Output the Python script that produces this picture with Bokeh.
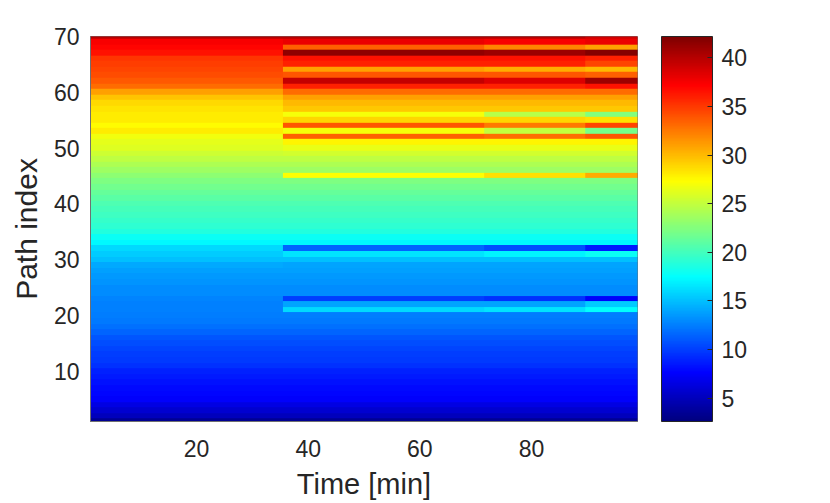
import numpy as np
from bokeh.plotting import figure
from bokeh.models import LinearColorMapper, ColorBar, FixedTicker
from bokeh.embed import file_html
from bokeh.resources import INLINE

# ---- data ----
time_min = list(range(1, 100))          # 1 .. 99 minutes
path_index = list(range(1, 71))         # 1 .. 70 paths
segment_start = [1, 36, 72, 90]         # times where the path values change

# values per path (index 1..70) in each time segment
seg_a = [3.5, 5.0, 5.8, 6.5, 7.5, 7.8, 8.0, 8.2, 8.5, 8.8,
         9.5, 9.8, 10.0, 10.3, 10.5, 10.8, 11.5, 12.0, 12.2, 12.4,
         12.5, 12.6, 12.8, 13.0, 13.1, 13.3, 13.5, 13.8, 14.2, 15.0,
         15.5, 16.0, 17.2, 17.8, 18.8, 19.2, 19.5, 19.8, 20.1, 20.5,
         20.9, 21.4, 21.9, 22.4, 23.0, 23.6, 24.2, 24.8, 25.4, 26.0,
         26.4, 26.8, 28.0, 27.4, 28.0, 28.0, 28.4, 28.8, 29.6, 31.0,
         33.0, 33.8, 34.2, 34.5, 34.8, 35.2, 36.5, 37.0, 37.5, 40.0]

seg_b = [3.5, 5.0, 5.8, 6.5, 7.5, 7.8, 8.0, 8.2, 8.5, 8.8,
         9.5, 9.8, 10.0, 10.3, 10.5, 10.8, 11.5, 12.0, 12.2, 12.4,
         16.0, 14.0, 10.0, 13.0, 13.1, 13.3, 13.5, 13.8, 14.0, 15.0,
         16.5, 11.5, 17.2, 17.8, 18.8, 19.2, 19.5, 19.8, 20.1, 20.5,
         20.9, 21.4, 21.9, 22.4, 27.3, 23.6, 24.2, 24.8, 25.6, 26.5,
         27.8, 33.5, 27.0, 34.0, 29.0, 27.0, 29.5, 30.0, 31.0, 33.0,
         36.0, 39.5, 34.0, 31.0, 36.0, 36.5, 41.5, 33.5, 38.0, 40.0]

seg_c = [3.5, 5.0, 5.8, 6.5, 7.5, 7.8, 8.0, 8.2, 8.5, 8.8,
         9.5, 9.8, 10.0, 10.3, 10.5, 10.8, 11.5, 12.0, 12.2, 12.4,
         16.5, 14.0, 9.5, 13.0, 13.1, 13.3, 13.5, 13.8, 14.0, 15.0,
         17.0, 10.5, 17.2, 17.8, 18.8, 19.2, 19.5, 19.8, 20.1, 20.5,
         20.9, 21.4, 21.9, 22.4, 28.5, 23.6, 24.2, 24.8, 25.6, 26.5,
         27.8, 33.0, 25.0, 32.5, 29.0, 24.5, 29.5, 30.0, 31.0, 33.0,
         36.0, 38.5, 34.0, 30.5, 36.0, 36.5, 41.0, 32.0, 37.5, 40.0]

seg_d = [3.5, 5.0, 5.8, 6.5, 7.5, 7.8, 8.0, 8.2, 8.5, 8.8,
         9.5, 9.8, 10.0, 10.3, 10.5, 10.8, 11.5, 12.0, 12.2, 12.4,
         17.5, 15.5, 7.5, 13.0, 13.1, 13.3, 13.5, 13.8, 14.0, 15.0,
         17.8, 8.5, 17.2, 17.8, 18.8, 19.2, 19.5, 19.8, 20.1, 20.5,
         20.9, 21.4, 21.9, 22.4, 30.5, 23.6, 24.2, 24.8, 25.6, 26.5,
         27.8, 34.0, 22.0, 34.5, 28.5, 22.5, 29.5, 30.0, 31.0, 33.0,
         36.5, 41.0, 33.5, 30.0, 34.5, 36.0, 42.0, 31.0, 38.0, 39.0]

cbar_low, cbar_high = 2.6, 42.2
x_ticks = [20, 40, 60, 80]
y_ticks = [10, 20, 30, 40, 50, 60, 70]
cbar_ticks = [5, 10, 15, 20, 25, 30, 35, 40]

# ---- build the path x time matrix ----
segments = [seg_a, seg_b, seg_c, seg_d]
Z = np.zeros((len(path_index), len(time_min)))
for j, t in enumerate(time_min):
    k = max(i for i, s in enumerate(segment_start) if t >= s)
    Z[:, j] = segments[k]


def jet(n):
    cols = []
    for i in range(n):
        f = i / (n - 1)
        r = min(max(1.5 - abs(4 * f - 3), 0), 1)
        g = min(max(1.5 - abs(4 * f - 2), 0), 1)
        b = min(max(1.5 - abs(4 * f - 1), 0), 1)
        cols.append("#%02x%02x%02x" % (round(r * 255), round(g * 255), round(b * 255)))
    return cols


mapper = LinearColorMapper(palette=jet(256), low=cbar_low, high=cbar_high)

TXT = "#262626"
FONT = "Liberation Sans"

p = figure(frame_width=547, frame_height=385,
           x_range=(time_min[0], time_min[-1]), y_range=(path_index[0], path_index[-1]),
           output_backend="svg", toolbar_location=None,
           min_border_left=90, min_border_top=36, min_border_bottom=70,
           min_border_right=140)

p.image(image=[Z], x=time_min[0] - 0.5, y=path_index[0] - 0.5,
        dw=len(time_min), dh=len(path_index), color_mapper=mapper)

p.grid.visible = False
p.outline_line_color = "#707070"
p.outline_line_width = 1

for ax in (p.xaxis[0], p.yaxis[0]):
    ax.axis_line_color = "#707070"
    ax.major_tick_line_color = None
    ax.major_tick_out = 0
    ax.major_tick_in = 0
    ax.minor_tick_line_color = None
    ax.minor_tick_out = 0
    ax.major_label_text_font = FONT
    ax.major_label_text_font_size = "23px"
    ax.major_label_text_color = TXT
    ax.axis_label_text_font = FONT
    ax.axis_label_text_font_style = "normal"
    ax.axis_label_text_color = TXT

p.yaxis.axis_label_text_font_size = "30px"
p.xaxis.axis_label_text_font_size = "29px"
p.yaxis.major_label_standoff = 11
p.yaxis.axis_label_standoff = 8
p.xaxis.major_label_standoff = 18
p.xaxis.axis_label_standoff = 8

p.xaxis.ticker = FixedTicker(ticks=x_ticks)
p.yaxis.ticker = FixedTicker(ticks=y_ticks)
p.xaxis.axis_label = "Time [min]"
p.yaxis.axis_label = "Path index"

cb = ColorBar(color_mapper=mapper, ticker=FixedTicker(ticks=cbar_ticks),
              width=51, height=385, location=(24, 0), padding=0, margin=0,
              bar_line_color=TXT, bar_line_width=1,
              major_tick_line_color=TXT, major_tick_in=5, major_tick_out=0,
              minor_tick_line_color=None, label_standoff=9,
              major_label_text_font=FONT, major_label_text_font_size="23px",
              major_label_text_color=TXT,
              background_fill_alpha=0, border_line_color=None)
p.add_layout(cb, "right")

open("out.html", "w").write(file_html(p, INLINE))
